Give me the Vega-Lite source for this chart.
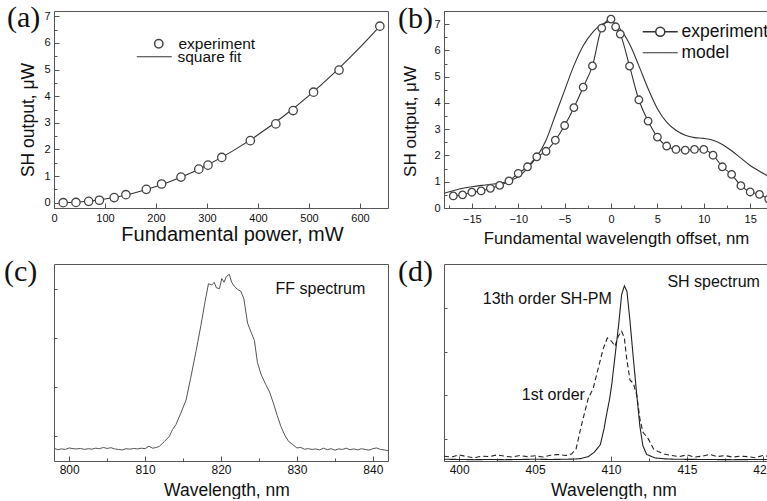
{
  "$schema": "https://vega.github.io/schema/vega-lite/v6.json",
  "background": "white",
  "padding": {"left": 3, "top": 2, "right": 0, "bottom": 0},
  "columns": 2,
  "spacing": {"column": 6, "row": 8},
  "resolve": {"scale": {"color": "independent", "strokeDash": "independent", "shape": "independent"}, "legend": {"color": "independent", "shape": "independent"}},
  "datasets": {
    "expA": [
      {"p": 18, "s": 0.0, "series": "experiment"}, {"p": 43, "s": 0.01, "series": "experiment"},
      {"p": 68, "s": 0.05, "series": "experiment"}, {"p": 89, "s": 0.09, "series": "experiment"},
      {"p": 118, "s": 0.19, "series": "experiment"}, {"p": 141, "s": 0.3, "series": "experiment"},
      {"p": 181, "s": 0.5, "series": "experiment"}, {"p": 211, "s": 0.7, "series": "experiment"},
      {"p": 249, "s": 0.96, "series": "experiment"}, {"p": 284, "s": 1.26, "series": "experiment"},
      {"p": 302, "s": 1.41, "series": "experiment"}, {"p": 329, "s": 1.7, "series": "experiment"},
      {"p": 385, "s": 2.33, "series": "experiment"}, {"p": 435, "s": 2.96, "series": "experiment"},
      {"p": 469, "s": 3.46, "series": "experiment"}, {"p": 509, "s": 4.15, "series": "experiment"},
      {"p": 559, "s": 4.98, "series": "experiment"}, {"p": 639, "s": 6.63, "series": "experiment"}
    ],
    "fitA": [
      {"p": 18, "s": 0.0, "series": "square fit"}, {"p": 50, "s": 0.027, "series": "square fit"},
      {"p": 100, "s": 0.136, "series": "square fit"}, {"p": 150, "s": 0.329, "series": "square fit"},
      {"p": 200, "s": 0.605, "series": "square fit"}, {"p": 250, "s": 0.965, "series": "square fit"},
      {"p": 300, "s": 1.41, "series": "square fit"}, {"p": 350, "s": 1.937, "series": "square fit"},
      {"p": 400, "s": 2.549, "series": "square fit"}, {"p": 450, "s": 3.245, "series": "square fit"},
      {"p": 500, "s": 4.024, "series": "square fit"}, {"p": 550, "s": 4.887, "series": "square fit"},
      {"p": 600, "s": 5.834, "series": "square fit"}, {"p": 640, "s": 6.652, "series": "square fit"}
    ],
    "expB": [
      {"w": -17, "s": 0.46}, {"w": -16, "s": 0.5}, {"w": -15, "s": 0.6}, {"w": -14, "s": 0.65},
      {"w": -13, "s": 0.75}, {"w": -12, "s": 0.86}, {"w": -11, "s": 1.03}, {"w": -10, "s": 1.32},
      {"w": -9, "s": 1.57}, {"w": -8, "s": 1.95}, {"w": -7, "s": 2.16}, {"w": -6, "s": 2.58},
      {"w": -5, "s": 3.14}, {"w": -4, "s": 3.82}, {"w": -3, "s": 4.6}, {"w": -2, "s": 5.41},
      {"w": -1, "s": 6.85}, {"w": 0, "s": 7.19}, {"w": 0.5, "s": 6.9}, {"w": 1, "s": 6.62},
      {"w": 2, "s": 5.4}, {"w": 3, "s": 4.12}, {"w": 4, "s": 3.31}, {"w": 5, "s": 2.7},
      {"w": 6, "s": 2.36}, {"w": 7, "s": 2.23}, {"w": 8, "s": 2.2}, {"w": 9, "s": 2.23},
      {"w": 10, "s": 2.23}, {"w": 11, "s": 2.01}, {"w": 12, "s": 1.57}, {"w": 13, "s": 1.28},
      {"w": 14, "s": 0.85}, {"w": 15, "s": 0.61}, {"w": 16, "s": 0.52}, {"w": 17, "s": 0.34}
    ],
    "linesB": [
      {"w": -17, "s": 0.46, "series": "experiment"}, {"w": -16, "s": 0.5, "series": "experiment"},
      {"w": -15, "s": 0.6, "series": "experiment"}, {"w": -14, "s": 0.65, "series": "experiment"},
      {"w": -13, "s": 0.75, "series": "experiment"}, {"w": -12, "s": 0.86, "series": "experiment"},
      {"w": -11, "s": 1.03, "series": "experiment"}, {"w": -10, "s": 1.32, "series": "experiment"},
      {"w": -9, "s": 1.57, "series": "experiment"}, {"w": -8, "s": 1.95, "series": "experiment"},
      {"w": -7, "s": 2.16, "series": "experiment"}, {"w": -6, "s": 2.58, "series": "experiment"},
      {"w": -5, "s": 3.14, "series": "experiment"}, {"w": -4, "s": 3.82, "series": "experiment"},
      {"w": -3, "s": 4.6, "series": "experiment"}, {"w": -2, "s": 5.41, "series": "experiment"},
      {"w": -1, "s": 6.85, "series": "experiment"}, {"w": 0, "s": 7.19, "series": "experiment"},
      {"w": 0.5, "s": 6.9, "series": "experiment"}, {"w": 1, "s": 6.62, "series": "experiment"},
      {"w": 2, "s": 5.4, "series": "experiment"}, {"w": 3, "s": 4.12, "series": "experiment"},
      {"w": 4, "s": 3.31, "series": "experiment"}, {"w": 5, "s": 2.7, "series": "experiment"},
      {"w": 6, "s": 2.36, "series": "experiment"}, {"w": 7, "s": 2.23, "series": "experiment"},
      {"w": 8, "s": 2.2, "series": "experiment"}, {"w": 9, "s": 2.23, "series": "experiment"},
      {"w": 10, "s": 2.23, "series": "experiment"}, {"w": 11, "s": 2.01, "series": "experiment"},
      {"w": 12, "s": 1.57, "series": "experiment"}, {"w": 13, "s": 1.28, "series": "experiment"},
      {"w": 14, "s": 0.85, "series": "experiment"}, {"w": 15, "s": 0.61, "series": "experiment"},
      {"w": 16, "s": 0.52, "series": "experiment"}, {"w": 17, "s": 0.34, "series": "experiment"},
      {"w": -18, "s": 0.56, "series": "model"}, {"w": -17, "s": 0.66, "series": "model"},
      {"w": -16, "s": 0.75, "series": "model"}, {"w": -15, "s": 0.81, "series": "model"},
      {"w": -14, "s": 0.86, "series": "model"}, {"w": -13, "s": 0.9, "series": "model"},
      {"w": -12, "s": 0.94, "series": "model"}, {"w": -11, "s": 1.03, "series": "model"},
      {"w": -10, "s": 1.19, "series": "model"}, {"w": -9, "s": 1.51, "series": "model"},
      {"w": -8, "s": 1.95, "series": "model"}, {"w": -7, "s": 2.58, "series": "model"},
      {"w": -6, "s": 3.53, "series": "model"}, {"w": -5, "s": 4.48, "series": "model"},
      {"w": -4, "s": 5.42, "series": "model"}, {"w": -3, "s": 6.18, "series": "model"},
      {"w": -2, "s": 6.68, "series": "model"}, {"w": -1, "s": 7.0, "series": "model"},
      {"w": 0, "s": 7.08, "series": "model"}, {"w": 1, "s": 6.81, "series": "model"},
      {"w": 2, "s": 6.24, "series": "model"}, {"w": 3, "s": 5.42, "series": "model"},
      {"w": 4, "s": 4.54, "series": "model"}, {"w": 5, "s": 3.78, "series": "model"},
      {"w": 6, "s": 3.27, "series": "model"}, {"w": 7, "s": 2.96, "series": "model"},
      {"w": 8, "s": 2.77, "series": "model"}, {"w": 9, "s": 2.68, "series": "model"},
      {"w": 10, "s": 2.65, "series": "model"}, {"w": 11, "s": 2.58, "series": "model"},
      {"w": 12, "s": 2.42, "series": "model"}, {"w": 13, "s": 2.18, "series": "model"},
      {"w": 14, "s": 1.9, "series": "model"}, {"w": 15, "s": 1.62, "series": "model"},
      {"w": 16, "s": 1.4, "series": "model"}, {"w": 17, "s": 1.2, "series": "model"},
      {"w": 18, "s": 1.0, "series": "model"}
    ],
    "specC": [
      {"l": 798.0, "i": 0.52}, {"l": 798.5, "i": 0.46}, {"l": 799.0, "i": 0.49}, {"l": 799.5, "i": 0.47},
      {"l": 800.0, "i": 0.53}, {"l": 800.5, "i": 0.5}, {"l": 801.0, "i": 0.49}, {"l": 801.5, "i": 0.51},
      {"l": 802.0, "i": 0.47}, {"l": 802.5, "i": 0.5}, {"l": 803.0, "i": 0.48}, {"l": 803.5, "i": 0.52},
      {"l": 804.0, "i": 0.5}, {"l": 804.5, "i": 0.55}, {"l": 805.0, "i": 0.51}, {"l": 805.5, "i": 0.54},
      {"l": 806.0, "i": 0.49}, {"l": 806.5, "i": 0.47}, {"l": 807.0, "i": 0.45}, {"l": 807.5, "i": 0.5},
      {"l": 808.0, "i": 0.48}, {"l": 808.5, "i": 0.51}, {"l": 809.0, "i": 0.49}, {"l": 809.5, "i": 0.52},
      {"l": 810.0, "i": 0.5}, {"l": 810.5, "i": 0.6}, {"l": 811.0, "i": 0.52}, {"l": 811.5, "i": 0.55},
      {"l": 811.9, "i": 0.6}, {"l": 812.5, "i": 0.78}, {"l": 813.2, "i": 1.0}, {"l": 813.6, "i": 1.27},
      {"l": 814.05, "i": 1.47}, {"l": 814.7, "i": 1.94}, {"l": 815.4, "i": 2.48}, {"l": 816.0, "i": 3.36},
      {"l": 816.7, "i": 4.44}, {"l": 817.35, "i": 5.5}, {"l": 817.9, "i": 6.47}, {"l": 818.35, "i": 7.2},
      {"l": 818.8, "i": 7.15}, {"l": 819.1, "i": 7.26}, {"l": 819.4, "i": 7.03}, {"l": 819.8, "i": 7.0},
      {"l": 820.1, "i": 7.41}, {"l": 820.4, "i": 7.26}, {"l": 820.7, "i": 7.49}, {"l": 821.1, "i": 7.58},
      {"l": 821.4, "i": 7.26}, {"l": 821.75, "i": 7.1}, {"l": 822.2, "i": 6.96}, {"l": 822.6, "i": 6.9},
      {"l": 823.0, "i": 6.6}, {"l": 823.5, "i": 5.6}, {"l": 824.0, "i": 5.2}, {"l": 824.4, "i": 4.9},
      {"l": 824.8, "i": 4.0}, {"l": 825.3, "i": 3.5}, {"l": 825.9, "i": 3.1}, {"l": 826.4, "i": 2.8},
      {"l": 826.9, "i": 2.35}, {"l": 827.4, "i": 1.85}, {"l": 827.9, "i": 1.4}, {"l": 828.4, "i": 1.05},
      {"l": 828.9, "i": 0.8}, {"l": 829.4, "i": 0.68}, {"l": 830.0, "i": 0.53}, {"l": 830.5, "i": 0.55},
      {"l": 831.0, "i": 0.48}, {"l": 831.5, "i": 0.5}, {"l": 832.0, "i": 0.47}, {"l": 832.5, "i": 0.49},
      {"l": 833.0, "i": 0.45}, {"l": 833.5, "i": 0.52}, {"l": 834.0, "i": 0.46}, {"l": 834.5, "i": 0.5},
      {"l": 835.0, "i": 0.44}, {"l": 835.5, "i": 0.49}, {"l": 836.0, "i": 0.47}, {"l": 836.5, "i": 0.52},
      {"l": 837.0, "i": 0.46}, {"l": 837.5, "i": 0.49}, {"l": 838.0, "i": 0.45}, {"l": 838.5, "i": 0.5},
      {"l": 839.0, "i": 0.47}, {"l": 839.5, "i": 0.44}, {"l": 840.0, "i": 0.5}, {"l": 840.5, "i": 0.53},
      {"l": 841.0, "i": 0.47}, {"l": 841.5, "i": 0.45}, {"l": 842.0, "i": 0.42}
    ],
    "specD": [
      {"l": 399.0, "i": 0.08, "o": "13th"}, {"l": 400.0, "i": 0.07, "o": "13th"}, {"l": 401.0, "i": 0.06, "o": "13th"},
      {"l": 402.0, "i": 0.07, "o": "13th"}, {"l": 403.0, "i": 0.06, "o": "13th"}, {"l": 404.0, "i": 0.07, "o": "13th"},
      {"l": 405.0, "i": 0.08, "o": "13th"}, {"l": 406.0, "i": 0.07, "o": "13th"}, {"l": 407.0, "i": 0.08, "o": "13th"},
      {"l": 407.6, "i": 0.09, "o": "13th"}, {"l": 408.0, "i": 0.11, "o": "13th"}, {"l": 408.5, "i": 0.2, "o": "13th"},
      {"l": 408.9, "i": 0.4, "o": "13th"}, {"l": 409.3, "i": 0.75, "o": "13th"}, {"l": 409.55, "i": 1.5, "o": "13th"},
      {"l": 409.7, "i": 2.1, "o": "13th"}, {"l": 409.9, "i": 2.8, "o": "13th"}, {"l": 410.05, "i": 3.5, "o": "13th"},
      {"l": 410.25, "i": 4.7, "o": "13th"}, {"l": 410.5, "i": 6.2, "o": "13th"}, {"l": 410.7, "i": 7.6, "o": "13th"},
      {"l": 410.88, "i": 8.0, "o": "13th"}, {"l": 411.05, "i": 7.75, "o": "13th"}, {"l": 411.25, "i": 6.4, "o": "13th"},
      {"l": 411.47, "i": 4.7, "o": "13th"}, {"l": 411.7, "i": 3.0, "o": "13th"}, {"l": 411.9, "i": 1.6, "o": "13th"},
      {"l": 412.1, "i": 0.7, "o": "13th"}, {"l": 412.35, "i": 0.3, "o": "13th"}, {"l": 412.9, "i": 0.14, "o": "13th"},
      {"l": 413.5, "i": 0.1, "o": "13th"}, {"l": 414.2, "i": 0.08, "o": "13th"}, {"l": 416.0, "i": 0.07, "o": "13th"},
      {"l": 418.0, "i": 0.06, "o": "13th"}, {"l": 420.0, "i": 0.07, "o": "13th"}, {"l": 421.0, "i": 0.07, "o": "13th"},
      {"l": 399.0, "i": 0.22, "o": "1st"}, {"l": 399.5, "i": 0.18, "o": "1st"}, {"l": 400.0, "i": 0.28, "o": "1st"},
      {"l": 400.5, "i": 0.2, "o": "1st"}, {"l": 401.0, "i": 0.15, "o": "1st"}, {"l": 401.5, "i": 0.22, "o": "1st"},
      {"l": 402.0, "i": 0.2, "o": "1st"}, {"l": 402.5, "i": 0.28, "o": "1st"}, {"l": 403.0, "i": 0.22, "o": "1st"},
      {"l": 403.5, "i": 0.18, "o": "1st"}, {"l": 404.0, "i": 0.25, "o": "1st"}, {"l": 404.5, "i": 0.2, "o": "1st"},
      {"l": 405.0, "i": 0.24, "o": "1st"}, {"l": 405.5, "i": 0.18, "o": "1st"}, {"l": 406.0, "i": 0.26, "o": "1st"},
      {"l": 406.5, "i": 0.3, "o": "1st"}, {"l": 407.0, "i": 0.25, "o": "1st"}, {"l": 407.4, "i": 0.32, "o": "1st"},
      {"l": 407.7, "i": 0.55, "o": "1st"}, {"l": 408.05, "i": 1.63, "o": "1st"}, {"l": 408.5, "i": 2.86, "o": "1st"},
      {"l": 408.83, "i": 3.32, "o": "1st"}, {"l": 409.16, "i": 4.24, "o": "1st"}, {"l": 409.5, "i": 5.16, "o": "1st"},
      {"l": 409.76, "i": 5.62, "o": "1st"}, {"l": 410.04, "i": 5.47, "o": "1st"}, {"l": 410.26, "i": 5.24, "o": "1st"},
      {"l": 410.48, "i": 5.7, "o": "1st"}, {"l": 410.7, "i": 5.93, "o": "1st"}, {"l": 410.88, "i": 5.62, "o": "1st"},
      {"l": 411.03, "i": 4.7, "o": "1st"}, {"l": 411.25, "i": 3.7, "o": "1st"}, {"l": 411.47, "i": 3.55, "o": "1st"},
      {"l": 411.7, "i": 3.0, "o": "1st"}, {"l": 411.9, "i": 1.94, "o": "1st"}, {"l": 412.1, "i": 1.32, "o": "1st"},
      {"l": 412.46, "i": 1.01, "o": "1st"}, {"l": 412.8, "i": 0.55, "o": "1st"}, {"l": 413.1, "i": 0.43, "o": "1st"},
      {"l": 413.5, "i": 0.32, "o": "1st"}, {"l": 414.0, "i": 0.25, "o": "1st"}, {"l": 414.5, "i": 0.2, "o": "1st"},
      {"l": 415.0, "i": 0.28, "o": "1st"}, {"l": 415.5, "i": 0.18, "o": "1st"}, {"l": 416.0, "i": 0.22, "o": "1st"},
      {"l": 416.5, "i": 0.3, "o": "1st"}, {"l": 417.0, "i": 0.2, "o": "1st"}, {"l": 417.5, "i": 0.25, "o": "1st"},
      {"l": 418.0, "i": 0.18, "o": "1st"}, {"l": 418.5, "i": 0.22, "o": "1st"}, {"l": 419.0, "i": 0.2, "o": "1st"},
      {"l": 419.5, "i": 0.15, "o": "1st"}, {"l": 420.0, "i": 0.25, "o": "1st"}, {"l": 420.5, "i": 0.2, "o": "1st"},
      {"l": 421.0, "i": 0.22, "o": "1st"}
    ],
    "annC": [{"l": 833.1, "i": 7.0, "label": "FF spectrum"}],
    "annD": [
      {"l": 416.76, "i": 8.2, "label": "SH spectrum"},
      {"l": 405.8, "i": 7.4, "label": "13th order SH-PM"},
      {"l": 406.2, "i": 3.02, "label": "1st order"}
    ]
  },
  "concat": [
    {
      "width": 334, "height": 197,
      "title": {"text": "(a)", "anchor": "start", "frame": "group", "dx": -47, "dy": 23, "offset": 0},
      "resolve": {"axis": {"y": "independent"}},
      "layer": [
        {
          "data": {"name": "fitA"},
          "mark": {"type": "line", "strokeWidth": 1.1, "interpolate": "monotone"},
          "encoding": {
            "x": {"field": "p", "type": "quantitative", "scale": {"domain": [0, 655], "nice": false},
              "axis": {"title": "Fundamental power, mW", "titleFontSize": 20, "titlePadding": 1, "titleX": 178, "labelOverlap": false,
                "values": [0, 50, 100, 150, 200, 250, 300, 350, 400, 450, 500, 550, 600, 650],
                "labelExpr": "datum.value % 100 === 0 ? datum.label : ''",
                "tickSize": {"condition": {"test": "datum.value % 100 === 0", "value": -5}, "value": -3},
                "labelPadding": 9, "labelFontSize": 11}},
            "y": {"field": "s", "type": "quantitative", "scale": {"domain": [-0.2, 7.2], "nice": false},
              "axis": {"title": "SH output, μW", "titleFontSize": 17.5, "titlePadding": 6, "titleY": 108.5,
                "values": [0, 1, 2, 3, 4, 5, 6, 7], "tickSize": -5,
                "labelPadding": 9, "labelFontSize": 11}},
            "color": {"field": "series", "type": "nominal",
              "scale": {"domain": ["square fit"], "range": ["#333333"]},
              "legend": {"orient": "none", "legendX": 105, "legendY": 38, "title": null,
                "symbolSize": 100, "labelFontSize": 15.5, "labelOffset": 3, "padding": 0,
                "encode": {"symbols": {"update": {
                  "shape": {"value": "M-6,0L1,0"},
                  "fill": {"value": "transparent"}, "stroke": {"value": "#333333"},
                  "strokeWidth": {"value": 1.1}}}}}}
          }
        },
        {
          "data": {"name": "expA"},
          "mark": {"type": "point", "filled": true, "fill": "white", "stroke": "#444444", "strokeWidth": 1.3, "size": 70, "opacity": 1},
          "encoding": {
            "x": {"field": "p", "type": "quantitative"},
            "y": {"field": "s", "type": "quantitative",
              "axis": {"orient": "left", "title": null, "labels": false, "tickSize": -3,
                "values": [0.5, 1.5, 2.5, 3.5, 4.5, 5.5, 6.5]}},
            "shape": {"field": "series", "type": "nominal",
              "scale": {"domain": ["experiment"], "range": ["circle"]},
              "legend": {"orient": "none", "legendX": 97, "legendY": 25, "title": null,
                "symbolSize": 70, "labelFontSize": 15.5, "labelOffset": 12, "padding": 0,
                "encode": {"symbols": {"update": {
                  "fill": {"value": "white"}, "stroke": {"value": "#444444"},
                  "strokeWidth": {"value": 1.6}, "opacity": {"value": 1}}}}}}
          }
        }
      ]
    },
    {
      "width": 334, "height": 197,
      "title": {"text": "(b)", "anchor": "start", "frame": "group", "dx": -46, "dy": 23, "offset": 0},
      "resolve": {"axis": {"x": "independent", "y": "independent"}},
      "layer": [
        {
          "data": {"name": "linesB"},
          "mark": {"type": "line", "strokeWidth": 1.1, "interpolate": "monotone"},
          "encoding": {
            "x": {"field": "w", "type": "quantitative", "scale": {"domain": [-18, 18], "nice": false},
              "axis": {"title": "Fundamental wavelength offset, nm", "titleFontSize": 16.8, "titlePadding": 6, "titleX": 172,
                "values": [-15, -10, -5, 0, 5, 10, 15], "tickSize": -5,
                "labelPadding": 10, "labelFontSize": 11}},
            "y": {"field": "s", "type": "quantitative", "scale": {"domain": [0, 7.5], "nice": false},
              "axis": {"title": "SH output, μW", "titleFontSize": 17, "titlePadding": 14, "titleY": 110,
                "values": [0, 1, 2, 3, 4, 5, 6, 7], "tickSize": -5,
                "labelPadding": 9, "labelFontSize": 11}},
            "detail": {"field": "series"},
            "color": {"field": "series", "type": "nominal",
              "scale": {"domain": ["experiment", "model"], "range": ["#333333", "#333333"]},
              "legend": {"orient": "none", "legendX": 220, "legendY": 12, "title": null,
                "symbolSize": 100, "labelFontSize": 17.5, "labelOffset": 0, "rowPadding": 2, "padding": 0,
                "encode": {"symbols": {"update": {
                  "shape": {"signal": "datum.value === 'experiment' ? 'M-6,0L-3.4,0M-1.6,0L1,0M-1.6,0A0.9,0.9 0 1,1 -3.4,0A0.9,0.9 0 1,1 -1.6,0Z' : 'M-6,0L1,0'"},
                  "fill": {"value": "transparent"}, "stroke": {"value": "#333333"},
                  "strokeWidth": {"signal": "datum.value === 'experiment' ? 1.5 : 1.1"}}}}}}
          }
        },
        {
          "data": {"name": "expB"},
          "mark": {"type": "point", "filled": true, "fill": "white", "stroke": "#444444", "strokeWidth": 1.3, "size": 57, "opacity": 1},
          "encoding": {
            "x": {"field": "w", "type": "quantitative",
              "axis": {"orient": "bottom", "title": null, "labels": false, "tickSize": -3,
                "values": [-17.5, -12.5, -7.5, -2.5, 2.5, 7.5, 12.5, 17.5]}},
            "y": {"field": "s", "type": "quantitative",
              "axis": {"orient": "left", "title": null, "labels": false, "tickSize": -3,
                "values": [0.5, 1.5, 2.5, 3.5, 4.5, 5.5, 6.5, 7.5]}}
          }
        }
      ]
    },
    {
      "width": 334, "height": 197,
      "title": {"text": "(c)", "anchor": "start", "frame": "group", "dx": -50, "dy": 23, "offset": 0},
      "layer": [
        {
          "data": {"name": "specC"},
          "mark": {"type": "line", "strokeWidth": 1, "color": "#555555"},
          "encoding": {
            "x": {"field": "l", "type": "quantitative", "scale": {"domain": [798, 842], "nice": false},
              "axis": {"title": "Wavelength, nm", "titleFontSize": 17.5, "titlePadding": 4, "titleX": 172.5, "labelOverlap": false,
                "values": [800, 805, 810, 815, 820, 825, 830, 835, 840],
                "labelExpr": "datum.value % 10 === 0 ? datum.label : ''",
                "tickSize": {"condition": {"test": "datum.value % 10 === 0", "value": -5}, "value": -3},
                "labelPadding": 8, "labelFontSize": 12}},
            "y": {"field": "i", "type": "quantitative", "scale": {"domain": [0, 8], "nice": false},
              "axis": {"title": null, "labels": false, "values": [1, 2, 3, 4, 5, 6, 7],
                "tickSize": {"condition": {"test": "datum.value % 2 === 0", "value": -5}, "value": -3}}}
          }
        },
        {
          "data": {"name": "annC"},
          "mark": {"type": "text", "fontSize": 16, "color": "#111111", "align": "center", "baseline": "middle"},
          "encoding": {
            "x": {"field": "l", "type": "quantitative"},
            "y": {"field": "i", "type": "quantitative"},
            "text": {"field": "label"}
          }
        }
      ]
    },
    {
      "width": 334, "height": 197,
      "title": {"text": "(d)", "anchor": "start", "frame": "group", "dx": -46, "dy": 23, "offset": 0},
      "layer": [
        {
          "data": {"name": "specD"},
          "mark": {"type": "line", "strokeWidth": 1.1, "color": "#222222"},
          "encoding": {
            "x": {"field": "l", "type": "quantitative", "scale": {"domain": [399, 421], "nice": false},
              "axis": {"title": "Wavelength, nm", "titleFontSize": 17.5, "titlePadding": 4, "titleX": 169.5, "labelOverlap": false,
                "values": [400, 402.5, 405, 407.5, 410, 412.5, 415, 417.5, 420],
                "labelExpr": "datum.value % 5 === 0 ? datum.label : ''",
                "tickSize": {"condition": {"test": "datum.value % 5 === 0", "value": -5}, "value": -3},
                "labelPadding": 8, "labelFontSize": 12}},
            "y": {"field": "i", "type": "quantitative", "scale": {"domain": [0, 9], "nice": false},
              "axis": {"title": null, "labels": false, "values": [1, 2, 3, 4, 5, 6, 7, 8],
                "tickSize": {"condition": {"test": "datum.value % 2 === 0", "value": -5}, "value": -3}}},
            "detail": {"field": "o"},
            "strokeDash": {"field": "o", "type": "nominal",
              "scale": {"domain": ["13th", "1st"], "range": [[1, 0], [5, 3]]}, "legend": null}
          }
        },
        {
          "data": {"name": "annD"},
          "mark": {"type": "text", "fontSize": 16, "color": "#111111", "align": "center", "baseline": "middle"},
          "encoding": {
            "x": {"field": "l", "type": "quantitative"},
            "y": {"field": "i", "type": "quantitative"},
            "text": {"field": "label"}
          }
        }
      ]
    }
  ],
  "config": {
    "font": "Liberation Sans",
    "view": {"stroke": "#555555", "strokeWidth": 1},
    "axis": {"grid": false, "domain": false, "labelFont": "Liberation Sans", "labelColor": "#111111",
      "titleFont": "Liberation Sans", "titleFontWeight": "normal", "titleColor": "#111111",
      "tickColor": "#555555", "labelOverlap": false, "labelFlush": false},
    "legend": {"labelFont": "Liberation Sans", "labelColor": "#111111"},
    "title": {"font": "Liberation Serif", "fontSize": 30, "fontWeight": "normal", "color": "#111111"}
  }
}
